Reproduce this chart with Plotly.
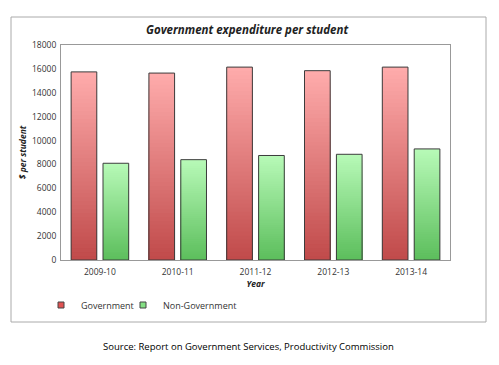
import plotly.graph_objects as go
import numpy as np

years = ["2009-10", "2010-11", "2011-12", "2012-13", "2013-14"]
government = [15750, 15650, 16150, 15850, 16150]
non_government = [8100, 8400, 8750, 8850, 9300]

FONT = "Open Sans"
N = 48
PAD = 8  # default body margin of the html page

def mix(c0, c1, t):
    return "rgb(%d,%d,%d)" % tuple(int(round(a + (b - a) * t)) for a, b in zip(c0, c1))

fig = go.Figure()

series = [
    ("Government", government, -0.37, (192, 74, 74), (255, 172, 172), "#e05252", "legend"),
    ("Non-Government", non_government, 0.04, (92, 190, 92), (184, 250, 184), "#84e084", "legend2"),
]
W = 0.33
for name, vals, off, cb, ct, legc, leg in series:
    vals = np.array(vals, dtype=float)
    # overlapping bars from tallest (top colour) down to shortest (bottom colour)
    for k in range(N, 0, -1):
        fig.add_trace(go.Bar(
            x=years, y=vals * k / N, base=[0] * len(vals),
            offset=off, width=W,
            marker=dict(color=mix(cb, ct, (k - 0.5) / N), line=dict(width=0)),
            showlegend=False, hoverinfo="skip",
        ))
    fig.add_trace(go.Bar(
        x=years, y=vals, base=[0] * len(vals), offset=off, width=W,
        marker=dict(color="rgba(0,0,0,0)", line=dict(color="#3c3c3c", width=1)),
        showlegend=False, name=name,
    ))
    fig.add_trace(go.Scatter(
        x=[years[0]], y=[None], mode="markers", name=name, legend=leg,
        marker=dict(symbol="square", size=6, color=legc, line=dict(color="#444", width=1)),
        showlegend=True,
    ))

WID, HEI = 499 - PAD, 365 - PAD
L, R, T, B = 61 - PAD, 49, 45 - PAD, 105
pw, ph = WID - L - R, HEI - T - B

def px(xp):
    return (xp - PAD - L) / pw

def py(yp):
    return (T + PAD + ph - yp) / ph

legfont = dict(family=FONT, size=9, color="#333")
fig.update_layout(
    width=WID, height=HEI,
    margin=dict(l=L, r=R, t=T, b=B),
    paper_bgcolor="white", plot_bgcolor="white",
    barmode="overlay",
    font=dict(family=FONT, size=9, color="#333"),
    showlegend=True,
    legend=dict(orientation="h", x=px(81 - 40), y=py(305), xanchor="left", yanchor="middle",
                font=legfont, bgcolor="rgba(0,0,0,0)"),
    legend2=dict(orientation="h", x=px(163 - 40), y=py(305), xanchor="left", yanchor="middle",
                 font=legfont, bgcolor="rgba(0,0,0,0)"),
    xaxis=dict(type="category", range=[-0.5, 4.5], showline=True, linecolor="#999",
               linewidth=1, mirror=True, showgrid=False, ticks="", ticklabelstandoff=4,
               tickfont=dict(family=FONT, size=8.5, color="#333"),
               title=dict(text="<b><i>Year</i></b>", font=dict(family=FONT, size=8.5, color="#222"),
                          standoff=4)),
    yaxis=dict(range=[0, 18000], dtick=2000, tickformat="d", showline=True, linecolor="#999",
               linewidth=1, mirror=True, showgrid=False, ticks="", zeroline=False,
               ticklabelstandoff=2,
               tickfont=dict(family=FONT, size=8.5, color="#333"),
               title=dict(text="<b><i>$ per student</i></b>", font=dict(family=FONT, size=8.5, color="#222"),
                          standoff=4)),
    shapes=[dict(type="rect", xref="paper", yref="paper",
                 x0=px(11), x1=px(486), y0=py(322), y1=py(17),
                 line=dict(color="#aaa", width=1), fillcolor="rgba(0,0,0,0)", layer="below")],
    annotations=[
        dict(text="<b><i>Government expenditure per student</i></b>", xref="paper", yref="paper",
             x=px(247), y=py(29), xanchor="center", yanchor="middle", showarrow=False,
             font=dict(family=FONT, size=11.5, color="#222")),
        dict(text="Source: Report on Government Services, Productivity Commission", xref="paper",
             yref="paper", x=px(248), y=py(346), xanchor="center", yanchor="middle", showarrow=False,
             font=dict(family=FONT, size=9.5, color="#000")),
    ],
)

fig.write_html("out.html")
